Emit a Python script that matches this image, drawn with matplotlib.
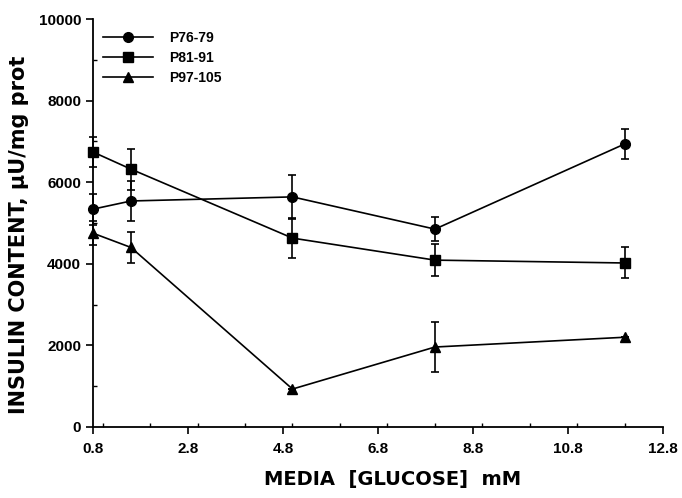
import matplotlib.pyplot as plt
from matplotlib.ticker import MultipleLocator
from matplotlib.lines import Line2D

plt.rcParams['font.family'] = ['Liberation Sans', 'DejaVu Sans']

# glucose concentrations (mM)
glucose = [0.8, 1.6, 5.0, 8.0, 12.0]

# insulin content per passage group, with symmetric error bar sizes
p76_79 = [5340, 5540, 5640, 4850, 6940]
p76_79_err = [380, 500, 540, 300, 370]
p81_91 = [6740, 6320, 4630, 4090, 4020]
p81_91_err = [360, 500, 500, 400, 380]
p97_105 = [4750, 4400, 930, 1960, 2200]
p97_105_err = [300, 380, 0, 610, 0]

labels = ["P76-79", "P81-91", "P97-105"]
markers = ["o", "s", "^"]

fig = plt.figure(figsize=(6.82, 4.98), dpi=100)
ax = fig.add_axes([0.1364, 0.1426, 0.8356, 0.8192])

series = [(p76_79, p76_79_err), (p81_91, p81_91_err), (p97_105, p97_105_err)]
for (vals, err), mk in zip(series, markers):
    eb = ax.errorbar(glucose, vals, yerr=err, color="black", marker=mk, markersize=7,
                     lw=1.2, elinewidth=1.2, capsize=3, capthick=1.2)
    for art in eb.get_children():
        art.set_clip_on(False)

ax.set_xlim(0.8, 12.8)
ax.set_ylim(0, 10000)
ax.xaxis.set_minor_locator(MultipleLocator(1))
ax.yaxis.set_major_locator(MultipleLocator(2000))
ax.yaxis.set_minor_locator(MultipleLocator(1000))
ax.set_xticks([0.8, 2.8, 4.8, 6.8, 8.8, 10.8, 12.8])
ax.set_xticklabels(["0.8", "2.8", "4.8", "6.8", "8.8", "10.8", "12.8"])

ax.spines["top"].set_visible(False)
ax.spines["right"].set_visible(False)
ax.spines["left"].set_linewidth(1.3)
ax.spines["bottom"].set_linewidth(1.3)
ax.tick_params(which="major", direction="out", length=5, width=1.2, labelsize=11)
ax.tick_params(axis="x", which="major", pad=6)
ax.tick_params(which="minor", direction="in", length=3, width=1)
for t in ax.get_xticklabels() + ax.get_yticklabels():
    t.set_fontweight("bold")

ax.set_xlabel("MEDIA  [GLUCOSE]  mM", fontsize=14, fontweight="bold",
              family="DejaVu Sans")
ax.set_ylabel("INSULIN CONTENT, μU/mg prot", fontsize=15, fontweight="bold",
              family="DejaVu Sans")
ax.xaxis.set_label_coords(0.525, -0.105)
ax.yaxis.set_label_coords(-0.112, 0.472)

handles = [Line2D([], [], color="black", marker=m, markersize=7, lw=1.2) for m in markers]
leg = ax.legend(handles, labels, loc="upper left", bbox_to_anchor=(0.0, 0.995), frameon=False,
                handlelength=3.6, handletextpad=1.2, fontsize=10, borderaxespad=0.3,
                labelspacing=0.45)
for t in leg.get_texts():
    t.set_fontweight("bold")

fig.savefig("out.png", dpi=100)
